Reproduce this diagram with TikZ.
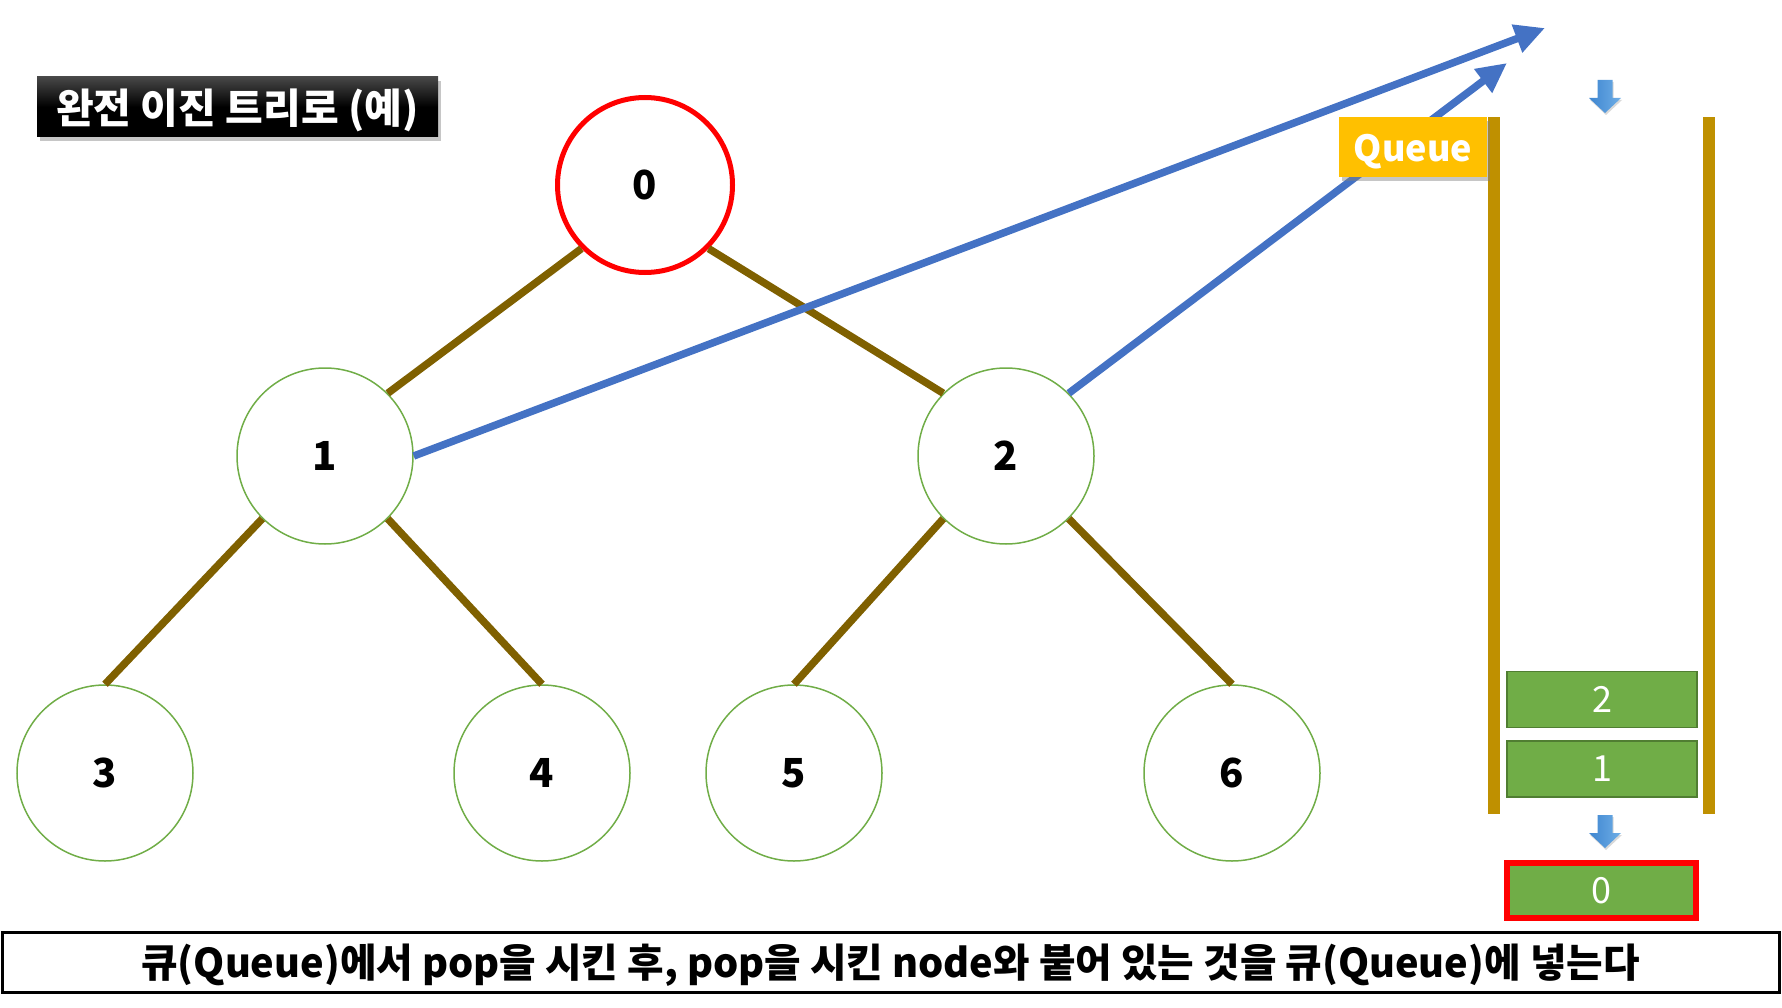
\documentclass[tikz,border=0pt]{standalone}
\usepackage{fontspec}
\setmainfont{Noto Sans CJK KR}
\usetikzlibrary{shadows,arrows.meta}

\definecolor{edgebrown}{HTML}{7F6000}
\definecolor{leafgreen}{HTML}{70AD47}
\definecolor{darkgreen}{HTML}{507E32}
\definecolor{linkblue}{HTML}{4472C4}
\definecolor{wallgold}{HTML}{BF9000}
\definecolor{tagyellow}{HTML}{FFC000}
\definecolor{arrowblueA}{HTML}{3F86D0}
\definecolor{arrowblueB}{HTML}{6FAEE6}

\tikzset{
  treenode/.style={circle, draw=leafgreen, line width=1.5pt, fill=white,
    minimum size=176pt, inner sep=0pt, font=\fontsize{40}{40}\selectfont\bfseries},
  rootnode/.style={treenode, draw=red, line width=5pt, minimum size=175pt},
  treeedge/.style={draw=edgebrown, line width=7.5pt},
  linkarrow/.style={draw=linkblue, line width=7.5pt,
    -{Triangle[length=30pt,width=28pt]}},
  qitem/.style={rectangle, draw=darkgreen, line width=1.5pt, fill=leafgreen,
    minimum width=190pt, minimum height=56pt, inner sep=0pt,
    text=white, font=\fontsize{36}{36}\selectfont},
  wall/.style={fill=wallgold, draw=none},
  softshadow/.style={drop shadow={opacity=0.45, shadow xshift=3pt, shadow yshift=-4pt}},
}

\newcommand{\downarrowat}[2]{%
  \shade[left color=arrowblueA, right color=arrowblueB, drop shadow={opacity=0.3, shadow xshift=1pt, shadow yshift=-2pt}]
    (#1-7.5,#2) -- (#1+7.5,#2) -- (#1+7.5,#2+18) -- (#1+16,#2+18)
    -- (#1,#2+33) -- (#1-16,#2+18) -- (#1-7.5,#2+18) -- cycle;}

\begin{document}
\begin{tikzpicture}[x=1pt,y=-1pt]
  \useasboundingbox (0,0) rectangle (1782,1008);

  % tree
  \node[rootnode] (n0) at (645,185) {0};
  \node[treenode] (n1) at (325,456) {1};
  \node[treenode] (n2) at (1006,456) {2};
  \node[treenode] (n3) at (105,773) {3};
  \node[treenode] (n4) at (542,773) {4};
  \node[treenode] (n5) at (794,773) {5};
  \node[treenode] (n6) at (1232,773) {6};

  \path[treeedge] (n0.south west) -- (n1.north east);
  \path[treeedge] (n0.south east) -- (n2.north west);
  \path[treeedge] (n1.south west) -- (n3.north);
  \path[treeedge] (n1.south east) -- (n4.north);
  \path[treeedge] (n2.south west) -- (n5.north);
  \path[treeedge] (n2.south east) -- (n6.north);

  % children pushed into the queue
  \coordinate (in1) at (1545,28);
  \coordinate (in2) at (1507,63);
  \path[linkarrow] (n1.east) -- (in1);
  \path[linkarrow] (n2.north east) -- (in2);

  % title
  \node[softshadow, rectangle, top color=black!72!white, bottom color=black, middle color=black,
        draw=none, minimum width=401pt, minimum height=60pt, inner sep=0pt,
        label={[text=white, font=\fontsize{41}{41}\selectfont\bfseries, yshift=-3pt]center:완전 이진 트리로 (예)}]
        (title) at (237.5,107) {};

  % queue walls
  \path[wall] (1488,117) rectangle (1500,814);
  \path[wall] (1703,117) rectangle (1715,814);
  \node[softshadow, rectangle, fill=tagyellow, minimum width=148pt, minimum height=60pt, inner sep=0pt,
        label={[text=white, font=\fontsize{36}{36}\selectfont\bfseries, yshift=-5pt]center:Queue}]
        (qlabel) at (1413,147) {};

  % queue contents
  \downarrowat{1605}{80}
  \node[qitem] (q2) at (1602,699.5) {2};
  \node[qitem] (q1) at (1602,769) {1};
  \downarrowat{1605}{815}
  \node[qitem, draw=red, line width=6pt, minimum width=189pt, minimum height=55pt] (q0) at (1601.5,890.5) {0};

  % caption
  \node[rectangle, draw=black, line width=3pt, minimum width=1777pt, minimum height=60pt, inner sep=0pt,
        label={[font=\fontsize{39.7}{39.7}\selectfont\bfseries, yshift=-3.5pt]center:큐(Queue)에서 pop을 시킨 후, pop을 시킨 node와 붙어 있는 것을 큐(Queue)에 넣는다}]
        (caption) at (890.5,962) {};
\end{tikzpicture}
\end{document}
